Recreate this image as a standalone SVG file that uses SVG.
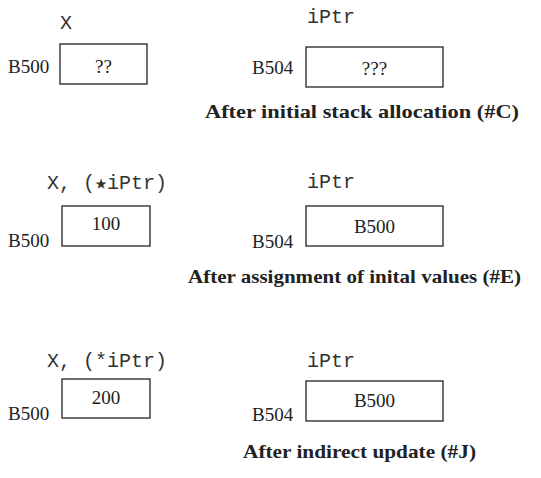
<svg xmlns="http://www.w3.org/2000/svg" width="541" height="478" viewBox="0 0 541 478">
<style>
.box{fill:#fff;stroke:#222;stroke-width:1.3}
.mono{font-family:"Liberation Mono","Courier New",monospace;font-size:20px;fill:#333}
.ser{font-family:"Liberation Serif","Times New Roman",serif;font-size:19px;fill:#222}
.cap{font-family:"Liberation Serif","Times New Roman",serif;font-size:19px;font-weight:bold;fill:#222}
.mid{text-anchor:middle}
</style>
<rect width="541" height="478" fill="#fff"/>
<g id="p1">
<g id="p1-x">
<text class="mono" x="60" y="29">X</text>
<text class="ser" x="8" y="73">B500</text>
<rect class="box" x="60" y="44" width="87" height="40"/>
<text class="ser mid" x="103.5" y="73">??</text>
</g>
<g id="p1-iptr">
<text class="mono" x="307" y="23">iPtr</text>
<text class="ser" x="252" y="74">B504</text>
<rect class="box" x="306" y="47" width="137" height="40"/>
<text class="ser mid" x="374.5" y="75">???</text>
</g>
<text class="cap" x="205" y="118" textLength="314" lengthAdjust="spacingAndGlyphs">After initial stack allocation (#C)</text>
</g>
<g id="p2">
<g id="p2-x">
<text class="mono" x="47" y="189">X, (★iPtr)</text>
<text class="ser" x="8" y="247">B500</text>
<rect class="box" x="62" y="206" width="88" height="40"/>
<text class="ser mid" x="106" y="230">100</text>
</g>
<g id="p2-iptr">
<text class="mono" x="307" y="188">iPtr</text>
<text class="ser" x="252" y="248">B504</text>
<rect class="box" x="306" y="206" width="137" height="40"/>
<text class="ser mid" x="374.5" y="233">B500</text>
</g>
<text class="cap" x="188" y="283" textLength="333" lengthAdjust="spacingAndGlyphs">After assignment of inital values (#E)</text>
</g>
<g id="p3">
<g id="p3-x">
<text class="mono" x="47" y="367">X, (*iPtr)</text>
<text class="ser" x="8" y="420">B500</text>
<rect class="box" x="62" y="379" width="88" height="39"/>
<text class="ser mid" x="106" y="404">200</text>
</g>
<g id="p3-iptr">
<text class="mono" x="307" y="367">iPtr</text>
<text class="ser" x="252" y="421">B504</text>
<rect class="box" x="306" y="381" width="137" height="40"/>
<text class="ser mid" x="374.5" y="407">B500</text>
</g>
<text class="cap" x="243" y="458" textLength="233" lengthAdjust="spacingAndGlyphs">After indirect update (#J)</text>
</g>
</svg>
